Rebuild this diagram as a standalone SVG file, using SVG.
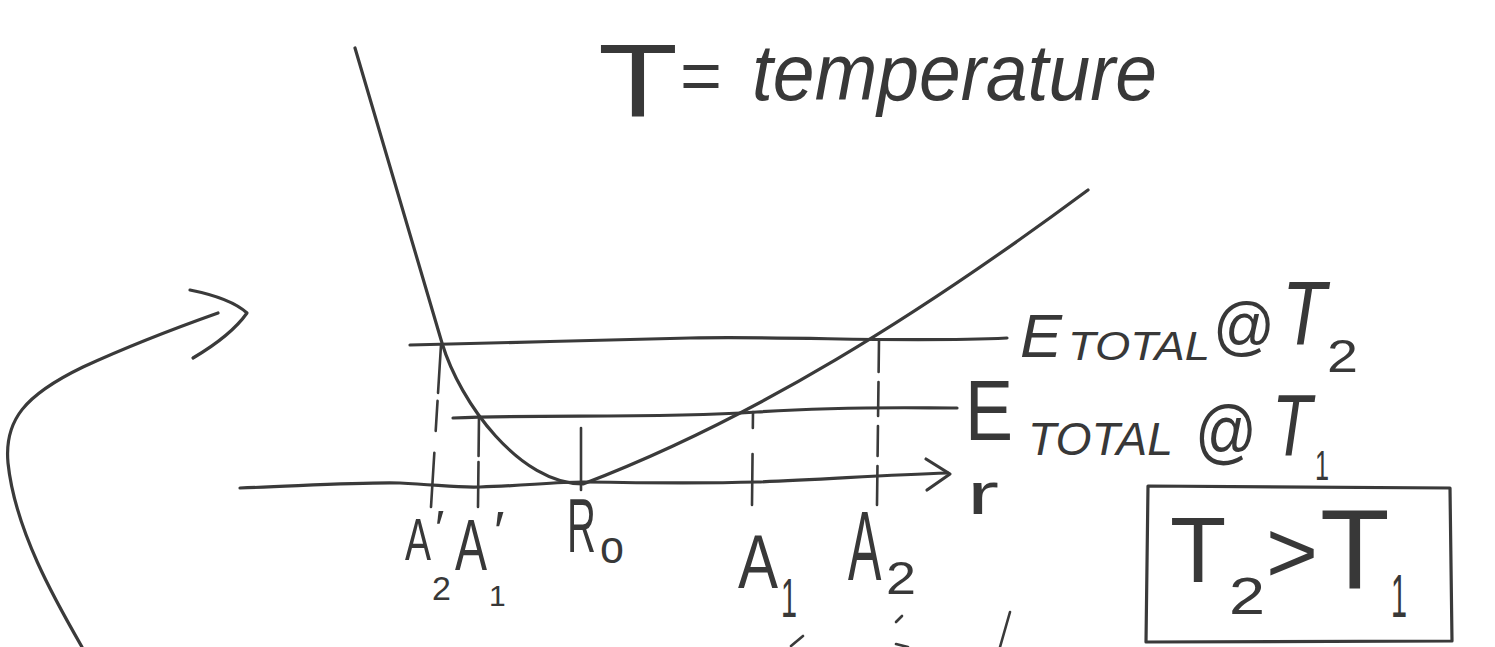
<svg xmlns="http://www.w3.org/2000/svg" width="1495" height="647" viewBox="0 0 1495 647">
<style>
.ln{fill:none;stroke:#3a3a3a;stroke-width:3.2;stroke-linecap:round;stroke-linejoin:round}
.th{fill:none;stroke:#3a3a3a;stroke-width:2.6;stroke-linecap:round}
.hw{font-family:"Liberation Sans","DejaVu Sans",sans-serif;fill:#383838}
.it{font-style:italic}
</style>
<rect width="1495" height="647" fill="#ffffff"/>

<g id="title">
<text class="hw" x="598" y="117" font-size="104" textLength="80" lengthAdjust="spacingAndGlyphs">T</text>
<text class="hw" x="680" y="100" font-size="70" textLength="42" lengthAdjust="spacingAndGlyphs">=</text>
<text class="hw it" x="752" y="100" font-size="80" textLength="405" lengthAdjust="spacingAndGlyphs">temperature</text>
</g>

<g id="potential-curve">
<path class="ln" d="M355,48 L442,343 C460,403 520,484 583,484 C753,419 918,316 1088,190"/>
</g>

<g id="e-total-t2-line">
<path class="ln" d="M410,345 C500,343 600,340 690,338 C800,336 900,343 1007,338"/>
</g>

<g id="e-total-t1-line">
<path class="ln" d="M453,418 C550,414 650,419 757,412 C850,406 910,408 957,408"/>
</g>

<g id="r-axis">
<path class="ln" d="M240,488 C300,486 360,482 400,483 C440,485 460,488 480,487 C520,486 555,482 583,482 C650,483 720,483 757,482 C820,480 880,475 948,473"/>
<path class="ln" d="M926,459 L950,474 L927,490"/>
</g>

<g id="markers">
<path class="th" d="M441,345 L431,507" stroke-dasharray="48 8 30 22 60"/>
<path class="th" d="M479,416 L478,507" stroke-dasharray="40 6 60"/>
<path class="th" d="M581,428 L581,490"/>
<path class="th" d="M753,412 L752,505" stroke-dasharray="16 26 60"/>
<path class="th" d="M879,340 L877,505" stroke-dasharray="32 10 34 10 30 10 40"/>
</g>

<g id="label-a2-prime">
<text class="hw" transform="translate(405,560) scale(1,1.54)" font-size="39">A</text>
<text class="hw" x="435" y="546" font-size="50">′</text>
<text class="hw" x="432" y="600" font-size="34">2</text>
</g>
<g id="label-a1-prime">
<text class="hw" transform="translate(455,570) scale(1,1.51)" font-size="48">A</text>
<text class="hw" x="494" y="550" font-size="56">′</text>
<text class="hw" x="489" y="606" font-size="30">1</text>
</g>
<g id="label-r0">
<text class="hw" transform="translate(567,552) scale(1,1.89)" font-size="40">R</text>
<text class="hw" x="600" y="563" font-size="46" textLength="24" lengthAdjust="spacingAndGlyphs">o</text>
</g>
<g id="label-a1">
<text class="hw" transform="translate(738,588) scale(1,1.28)" font-size="60">A</text>
<text class="hw" x="781" y="617" font-size="56" textLength="16" lengthAdjust="spacingAndGlyphs">1</text>
</g>
<g id="label-a2">
<text class="hw" transform="translate(848,580) scale(1,1.96)" font-size="50">A</text>
<text class="hw" x="886" y="594" font-size="46" textLength="30" lengthAdjust="spacingAndGlyphs">2</text>
</g>

<g id="label-r">
<text class="hw" x="967" y="514" font-size="60" textLength="32" lengthAdjust="spacingAndGlyphs">r</text>
</g>

<g id="label-e-total-t2">
<text class="hw it" x="1020" y="357" font-size="62" textLength="42" lengthAdjust="spacingAndGlyphs">E</text>
<text class="hw it" x="1068" y="360" font-size="40" textLength="142" lengthAdjust="spacingAndGlyphs">TOTAL</text>
<text class="hw" x="1213" y="348" font-size="64" textLength="62" lengthAdjust="spacingAndGlyphs">@</text>
<text class="hw it" transform="translate(1282,345) scale(1,1.26)" font-size="72">T</text>
<text class="hw" x="1327" y="372" font-size="46" textLength="31" lengthAdjust="spacingAndGlyphs">2</text>
</g>

<g id="label-e-total-t1">
<text class="hw" x="965" y="440" font-size="86" textLength="48" lengthAdjust="spacingAndGlyphs">E</text>
<text class="hw it" x="1028" y="455" font-size="46" textLength="145" lengthAdjust="spacingAndGlyphs">TOTAL</text>
<text class="hw" x="1195" y="455" font-size="70" textLength="62" lengthAdjust="spacingAndGlyphs">@</text>
<text class="hw it" transform="translate(1272,455) scale(1,1.33)" font-size="65">T</text>
<text class="hw" x="1315" y="480" font-size="42" textLength="14" lengthAdjust="spacingAndGlyphs">1</text>
</g>

<g id="box-t2-gt-t1">
<path class="ln" d="M1148,486 L1450,488 L1452,641 L1146,642 Z"/>
<text class="hw" x="1170" y="582" font-size="92">T</text>
<text class="hw" x="1229" y="614" font-size="52" textLength="36" lengthAdjust="spacingAndGlyphs">2</text>
<text class="hw" x="1266" y="582" font-size="88" textLength="52" lengthAdjust="spacingAndGlyphs">&gt;</text>
<text class="hw" x="1320" y="588" font-size="114">T</text>
<text class="hw" x="1391" y="617" font-size="62" textLength="16" lengthAdjust="spacingAndGlyphs">1</text>
</g>

<g id="connectors">
<path class="ln" d="M82,647 C55,600 15,530 8,463 C4,420 25,395 83,367 C120,350 170,330 218,313"/>
<path class="ln" d="M190,290 C215,295 235,302 247,313 C235,330 215,345 193,358"/>
</g>

<g id="fragments">
<path class="th" d="M791,646 L803,636"/>
<path class="th" d="M896,622 L902,616"/>
<path class="th" d="M896,644 L908,647"/>
<path class="th" d="M1000,647 L1010,612"/>
</g>
</svg>
